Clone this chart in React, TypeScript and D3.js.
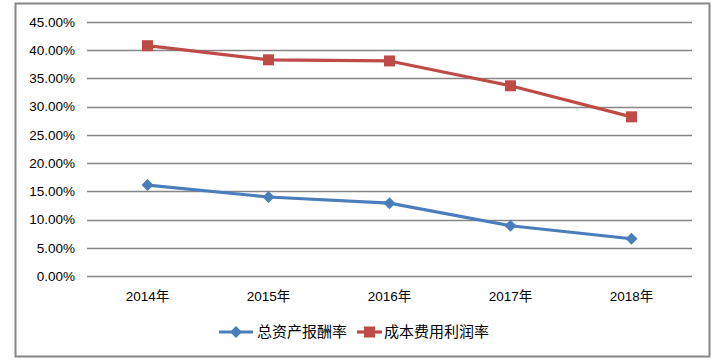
import { useEffect, useRef } from 'react';
import * as d3 from 'd3';

const years = ['2014年', '2015年', '2016年', '2017年', '2018年'];
const totalAssetReturn = [16.1, 14.0, 12.9, 8.9, 6.6];
const costProfitRate = [40.8, 38.3, 38.1, 33.7, 28.2];
const yTicks = [0, 5, 10, 15, 20, 25, 30, 35, 40, 45];

const series = [
  { name: '总资产报酬率', values: totalAssetReturn, color: '#4a7ebb', marker: 'diamond' },
  { name: '成本费用利润率', values: costProfitRate, color: '#be4b48', marker: 'square' },
];

const FONT = '"Liberation Sans", "Noto Sans CJK SC", sans-serif';

export default function App() {
  const ref = useRef<SVGSVGElement>(null);

  useEffect(() => {
    if (!ref.current) return;
    const svg = d3.select(ref.current);
    svg.selectAll('*').remove();

    // outer frame
    svg.append('rect')
      .attr('x', 15.5).attr('y', 3.5).attr('width', 694).attr('height', 353)
      .attr('fill', '#fff').attr('stroke', '#868686').attr('stroke-width', 2);

    const x = d3.scaleBand().domain(years).range([87, 692]);
    const y = d3.scaleLinear().domain([0, 45]).range([276, 22]);

    const g = svg.append('g').attr('font-family', FONT);

    // gridlines
    g.selectAll('line.grid').data(yTicks).join('line')
      .attr('x1', 87).attr('x2', 692)
      .attr('y1', (d) => Math.round(y(d)) + 0.5).attr('y2', (d) => Math.round(y(d)) + 0.5)
      .attr('stroke', '#868686').attr('stroke-width', 1.5);

    g.selectAll('text.ytick').data(yTicks).join('text')
      .attr('x', 75).attr('y', (d) => y(d)).attr('dy', '0.35em')
      .attr('text-anchor', 'end').attr('font-size', 13.5).attr('fill', '#000')
      .text((d) => d.toFixed(2) + '%');

    g.selectAll('text.xtick').data(years).join('text')
      .attr('x', (d) => x(d)! + x.bandwidth() / 2).attr('y', 296).attr('dy', '0.35em')
      .attr('text-anchor', 'middle').attr('font-size', 13.5).attr('fill', '#000')
      .text((d) => d);

    const line = d3.line<number>()
      .x((_, i) => x(years[i])! + x.bandwidth() / 2)
      .y((d) => y(d));

    const drawMarker = (sel: any, kind: string, color: string, cx: number, cy: number) => {
      if (kind === 'diamond') {
        sel.append('path')
          .attr('d', `M${cx},${cy - 6}L${cx + 6},${cy}L${cx},${cy + 6}L${cx - 6},${cy}Z`)
          .attr('fill', color);
      } else {
        sel.append('rect')
          .attr('x', cx - 5.5).attr('y', cy - 5.5).attr('width', 11).attr('height', 11)
          .attr('fill', color);
      }
    };

    series.forEach((s) => {
      g.append('path').datum(s.values).attr('d', line)
        .attr('fill', 'none').attr('stroke', s.color).attr('stroke-width', 3.2)
        .attr('stroke-linejoin', 'round');
      s.values.forEach((v, i) => {
        drawMarker(g, s.marker, s.color, x(years[i])! + x.bandwidth() / 2, y(v));
      });
    });

    // legend
    const legendY = 332;
    const legendPos = [{ lx: 219, tx: 257 }, { lx: 357, tx: 384 }];
    series.forEach((s, i) => {
      const { lx, tx } = legendPos[i];
      const lw = i === 0 ? 34 : 25;
      g.append('line')
        .attr('x1', lx).attr('x2', lx + lw).attr('y1', legendY).attr('y2', legendY)
        .attr('stroke', s.color).attr('stroke-width', 3.2);
      drawMarker(g, s.marker, s.color, lx + lw / 2, legendY);
      g.append('text')
        .attr('x', tx).attr('y', legendY).attr('dy', '0.35em')
        .attr('font-size', 15).attr('fill', '#000')
        .text(s.name);
    });
  }, []);

  return (
    <svg ref={ref} width={719} height={363}
      style={{ position: 'absolute', left: 0, top: 0, background: '#fff' }} />
  );
}
